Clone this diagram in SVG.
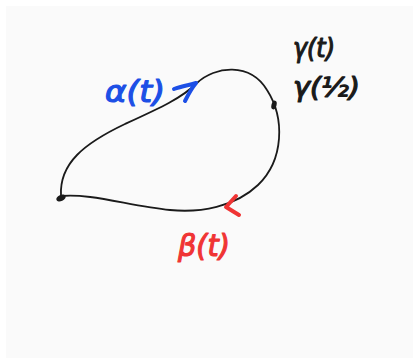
<svg xmlns="http://www.w3.org/2000/svg" width="413" height="360" viewBox="0 0 413 360">
  <style>
    .curve { fill: none; stroke: #1a1a1a; stroke-width: 1.8; stroke-linecap: round; }
    .hand { font-family: "DejaVu Sans", "Liberation Sans", sans-serif; font-style: italic; stroke-width: 1.2; stroke-linejoin: round; }
    .blue { fill: #1c4fe6; stroke: #1c4fe6; }
    .red { fill: #f03434; stroke: #f03434; }
    .black { fill: #1a1a1a; stroke: #1a1a1a; }
    .arrowB { fill: none; stroke: #1c4fe6; stroke-width: 4; stroke-linecap: round; stroke-linejoin: round; }
    .arrowR { fill: none; stroke: #f03434; stroke-width: 4; stroke-linecap: round; stroke-linejoin: round; }
    .dot { fill: #1a1a1a; }
  </style>
  <rect x="0" y="0" width="413" height="360" fill="#ffffff"/>
  <rect x="6" y="6" width="407" height="352" fill="#fafafa"/>

  <g id="connectors">
    <path class="curve" d="M 61,196 C 59,163 85,143 125,124 C 160,108 182,98 197,83 C 215,66 250,62 267,90 C 285,118 284,160 258,185 C 235,207 200,213 170,210 C 130,206 90,193 61,196"/>
    <path class="arrowB" d="M 174,89 C 182,86 190,85 196,83 M 185,101 C 188,95 191,89 196,83"/>
    <path class="arrowR" d="M 236,196 L 226,207 L 239,215"/>
  </g>

  <g id="start-point">
    <ellipse class="dot" cx="61" cy="198" rx="5" ry="3" transform="rotate(-25 61 198)"/>
  </g>
  <g id="mid-point">
    <ellipse class="dot" cx="274" cy="105" rx="2.5" ry="4.5" transform="rotate(15 274 105)"/>
  </g>

  <g id="label-alpha">
    <text class="hand blue" x="105" y="102" font-size="30" textLength="60" lengthAdjust="spacingAndGlyphs">α(t)</text>
  </g>
  <g id="label-gamma">
    <text class="hand black" x="293" y="57" font-size="26" textLength="42" lengthAdjust="spacingAndGlyphs">γ(t)</text>
    <text class="hand black" x="293" y="96" font-size="26" textLength="67" lengthAdjust="spacingAndGlyphs">γ(½)</text>
  </g>
  <g id="label-beta">
    <text class="hand red" x="178" y="256" font-size="30" textLength="52" lengthAdjust="spacingAndGlyphs">β(t)</text>
  </g>
</svg>
